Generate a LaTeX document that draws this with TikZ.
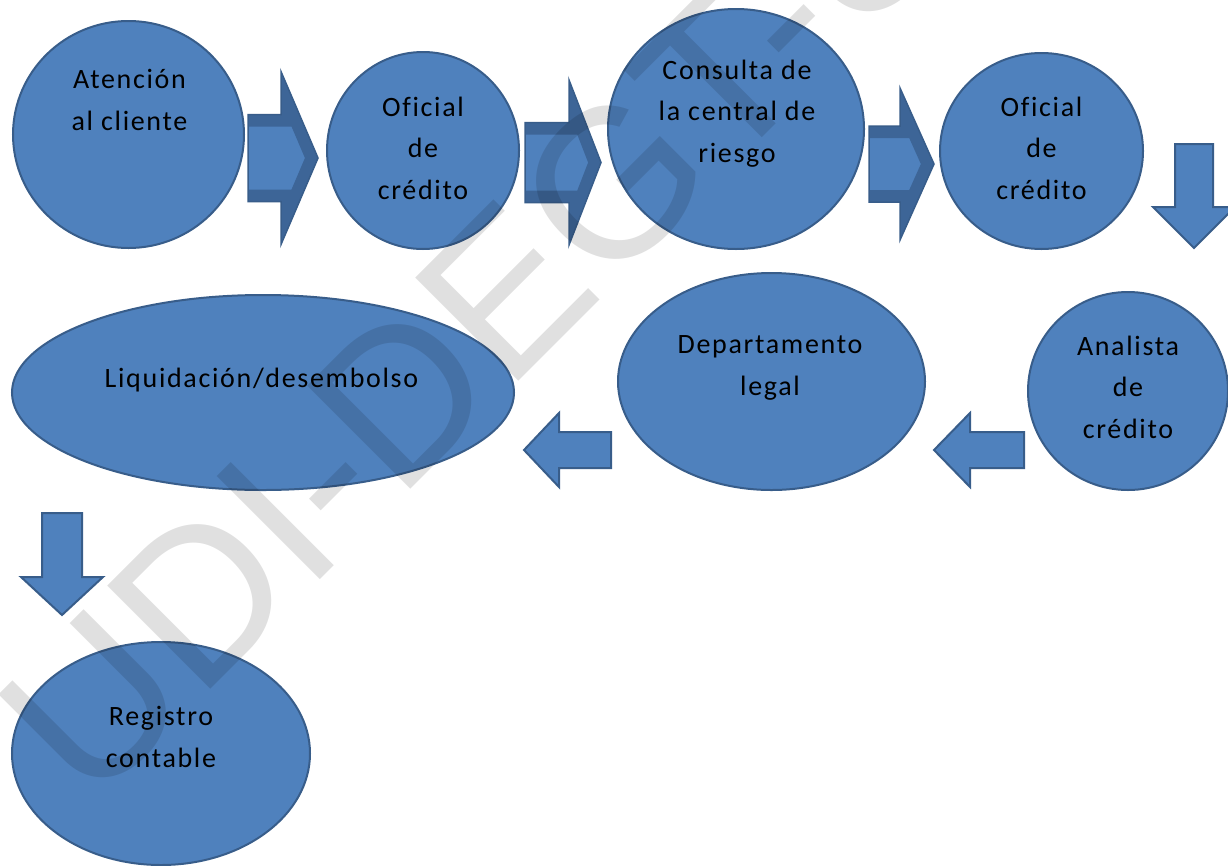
\documentclass[tikz,border=0pt]{standalone}
\usepackage{fontspec}
\setmainfont{Carlito}[Ligatures=NoCommon]
\newfontfamily\markfont{Liberation Sans}
\usetikzlibrary{shapes.geometric}

\definecolor{bubblefill}{RGB}{79,129,189}
\definecolor{bubbleline}{RGB}{56,93,138}
\definecolor{bevelband}{RGB}{61,101,151}

% right-pointing block arrow: tail x, head base x, tip x, centre y, shaft half, head half
\newcommand\rblock[6]{%
  \begin{scope}
    \clip (#1,#4-#5) -- (#2,#4-#5) -- (#2,#4-#6) -- (#3,#4) -- (#2,#4+#6) -- (#2,#4+#5) -- (#1,#4+#5) -- cycle;
    \fill[bubblefill] (#1,#4-#5) -- (#2,#4-#5) -- (#2,#4-#6) -- (#3,#4) -- (#2,#4+#6) -- (#2,#4+#5) -- (#1,#4+#5) -- cycle;
    \draw[bevelband, line width=24pt, line join=miter]
      (#1,#4-#5) -- (#2,#4-#5) -- (#2,#4-#6) -- (#3,#4) -- (#2,#4+#6) -- (#2,#4+#5) -- (#1,#4+#5);
  \end{scope}
  \draw[bubbleline, line width=1.5pt]
    (#1,#4-#5) -- (#2,#4-#5) -- (#2,#4-#6) -- (#3,#4) -- (#2,#4+#6) -- (#2,#4+#5) -- (#1,#4+#5) -- cycle;}

% left-pointing block arrow: tail x, head base x, tip x, centre y, shaft half, head half
\newcommand\lblock[6]{%
  \draw[blockarrow]
    (#1,#4-#5) -- (#2,#4-#5) -- (#2,#4-#6) -- (#3,#4) -- (#2,#4+#6) -- (#2,#4+#5) -- (#1,#4+#5) -- cycle;}

% down-pointing block arrow: tail y, head base y, tip y, centre x, shaft half, head half
\newcommand\dblock[6]{%
  \draw[blockarrow]
    (#4-#5,#1) -- (#4-#5,#2) -- (#4-#6,#2) -- (#4,#3) -- (#4+#6,#2) -- (#4+#5,#2) -- (#4+#5,#1) -- cycle;}

\begin{document}
\begin{tikzpicture}[x=1pt, y=-1pt,
  bubble/.style={ellipse, draw=bubbleline, fill=bubblefill, line width=2pt, inner sep=0pt},
  lbl/.style={font=\fontsize{28}{41.5}\selectfont\addfontfeatures{LetterSpace=6},
              align=center, anchor=base, inner sep=0pt, text=black},
  blockarrow/.style={draw=bubbleline, fill=bubblefill, line width=2pt, line join=miter},
  wmark/.style={font=\markfont\fontsize{212}{212}\selectfont, text=black,
                text opacity=0.12, inner sep=0pt}]

\useasboundingbox (0,0) rectangle (1228,865);
\fill[white] (0,0) rectangle (1228,865);

% process steps
\node[bubble, minimum width=231pt, minimum height=227pt] (atencion) at (128.5,134.5) {};
\node[bubble, minimum width=192pt, minimum height=197pt] (oficial1) at (423,150.5) {};
\node[bubble, minimum width=256pt, minimum height=240pt] (consulta) at (736,129) {};
\node[bubble, minimum width=203pt, minimum height=196pt] (oficial2) at (1041.5,151) {};
\node[bubble, minimum width=200pt, minimum height=198pt] (analista) at (1128,391) {};
\node[bubble, minimum width=307pt, minimum height=217pt] (legal) at (771.5,381.5) {};
\node[bubble, minimum width=502pt, minimum height=195pt] (liquida) at (263,392.5) {};
\node[bubble, minimum width=298pt, minimum height=223pt] (registro) at (161,753.5) {};

% labels (placed by the baseline of their last line)
\node[lbl] (tatencion) at (129.5,130) {Atención\\al cliente};
\node[lbl] (toficial1) at (423,199) {Oficial\\de\\crédito};
\node[lbl] (tconsulta) at (737,162) {Consulta de\\la central de\\riesgo};
\node[lbl] (toficial2) at (1041.5,199) {Oficial\\de\\crédito};
\node[lbl] (tanalista) at (1128,438) {Analista\\de\\crédito};
\node[lbl] (tlegal) at (770,395) {Departamento\\legal};
\node[lbl] (tliquida) at (261.5,387) {Liquidación/desembolso};
\node[lbl] (tregistro) at (161,767) {Registro\\contable};

% flow arrows
\rblock{248}{281}{318}{158}{43.5}{86.5}
\rblock{525}{569}{601}{162.5}{40}{82.5}
\rblock{869}{900}{934}{164}{38}{76}
\dblock{144}{207}{248}{1194}{19}{41}
\lblock{1024}{970}{934}{450}{18}{37}
\lblock{611}{559}{524}{450}{18}{37}
\dblock{513}{577}{615}{62}{20}{41}

% watermark
\node[wmark, rotate=45, anchor=base west] (mark) at (90,810) {UDI-DEGT-UNAN};
\end{tikzpicture}
\end{document}
